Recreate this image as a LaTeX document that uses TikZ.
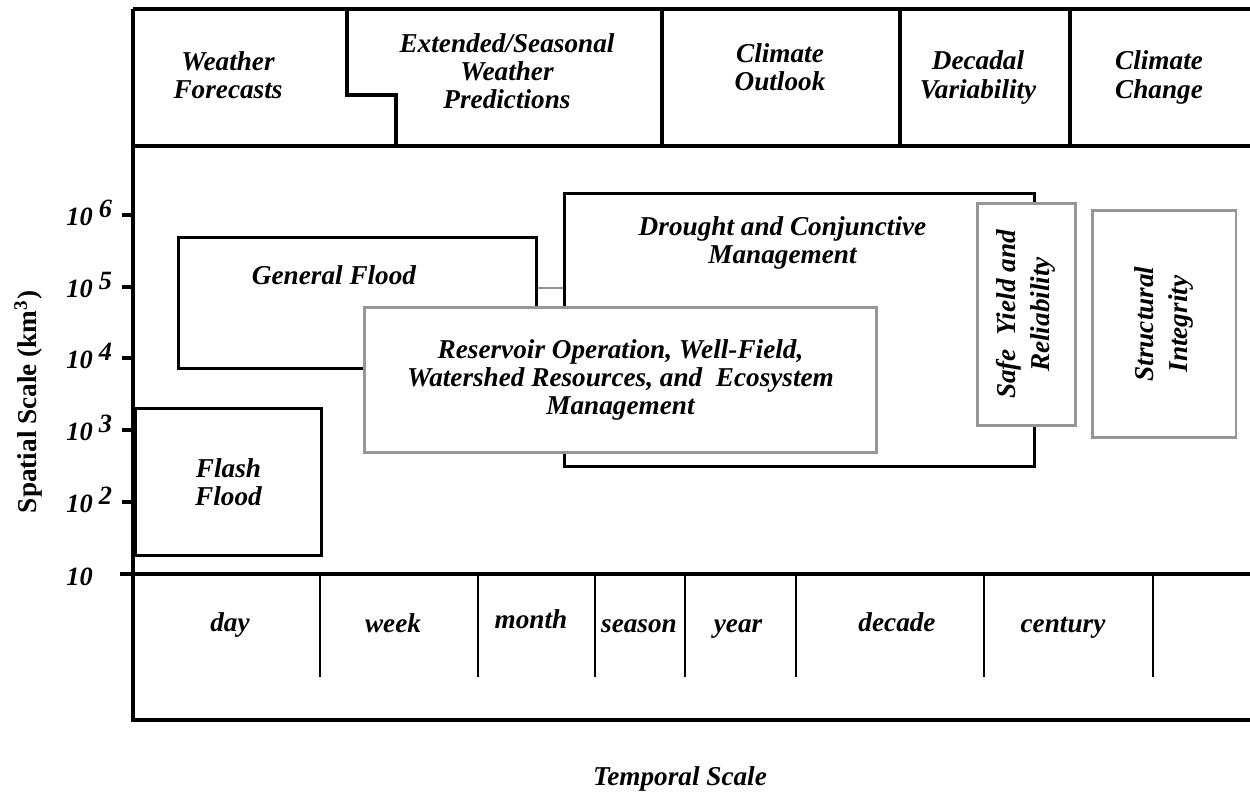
\documentclass[tikz,border=0pt]{standalone}
\usepackage{fontspec}
\setmainfont{Liberation Serif}
\usepackage{tikz}
\usetikzlibrary{positioning, calc}
\definecolor{linegray}{RGB}{150,150,150}
\newcommand{\chartfont}{\fontsize{15.5}{16}\selectfont\bfseries\itshape}

\begin{document}
\begin{tikzpicture}[
    x=0.02cm, y=-0.02cm,
    frame/.style={line width=1.8pt, black},
    divider/.style={line width=1.2pt, black},
    box/.style={draw, line width=1.7pt, fill=white, inner sep=0pt, align=center, font=\chartfont},
    graybox/.style={box, draw=linegray},
    rotbox/.style={graybox, rotate=90, font=\fontsize{15.5}{19.5}\selectfont\bfseries\itshape},
    lbl/.style={font=\chartfont, align=center, inner sep=0pt},
    ticklbl/.style={font=\fontsize{15}{16}\selectfont\bfseries\itshape, anchor=base west, inner sep=0pt},
    link/.style={line width=1.7pt, linegray}
]
    \useasboundingbox (0,0) rectangle (1250,794);

    % Forecast bands along the top
    \draw[frame] (133,9) -- (1250,9);
    \draw[frame] (133,146) -- (1250,146);
    \draw[frame] (133,9) -- (133,720) -- (1250,720);
    \draw[frame] (347,9) -- (347,95) -- (396,95) -- (396,146);
    \foreach \x in {662,900,1070}
        \draw[frame] (\x,9) -- (\x,146);

    \node[lbl] (weather) at (228,75.5) {Weather\\Forecasts};
    \node[lbl] (seasonal) at (507,71) {Extended/Seasonal\\Weather\\Predictions};
    \node[lbl] (outlook) at (780,67.5) {Climate\\Outlook};
    \node[lbl] (decadal) at (978,77.5) {Decadal\\Variability};
    \node[lbl] (change) at (1159,77.5) {Climate\\Change};

    % Spatial axis
    \draw[frame] (120,574) -- (1250,574);
    \node[ticklbl] (t1) at (66,585) {10};
    \foreach \k/\y in {2/502, 3/430, 4/358, 5/287, 6/215} {
        \draw[frame] (122,\y) -- (133,\y);
        \node[ticklbl] (t\k) at (66,\y+10) {10\hspace{3.5pt}\raisebox{4.5pt}{\k}};
    }
    \node[font=\fontsize{15.5}{16}\selectfont\bfseries, rotate=90, inner sep=0pt] (spatial) at (28,402) {Spatial Scale (km\textsuperscript{3})};

    % Temporal axis
    \foreach \x in {320,478,595,685,796,984,1153}
        \draw[divider] (\x,574) -- (\x,677);
    \foreach \x/\y/\t in {230/631/day, 393/632/week, 531/628/month, 639/632/season, 738/632/year, 897/631/decade, 1063/632/century}
        \node[lbl, anchor=base] (\t) at (\x,\y) {\t};
    \node[lbl, anchor=base] (temporal) at (680,785) {Temporal Scale};

    % Management problems
    \node[box, minimum width=7.18cm, minimum height=2.64cm] (gflood) at (357.5,303) {};
    \node[lbl] (gfloodtxt) at ($(gflood.north)+(-23.5,39.5)$) {General Flood};
    \node[box, minimum width=3.74cm, minimum height=2.96cm] (flash) at (228.5,482) {Flash\\Flood};
    \node[box, minimum width=9.42cm, minimum height=5.48cm] (drought) at (799.5,330) {};
    \node[lbl] (droughttxt) at ($(drought.north)+(-17,51.5)$) {Drought and Conjunctive\\Management};
    \draw[link] ($(gflood.east)+(0,-15)$) coordinate (g1) -- (g1 -| drought.west);
    \node[graybox, minimum width=10.26cm, minimum height=2.92cm] (reservoir) at (620.5,380) {Reservoir Operation, Well-Field,\\Watershed Resources, and~ Ecosystem\\Management};
    \node[rotbox, minimum width=4.46cm, minimum height=1.96cm] (safe) at (1026,314.5) {Safe~ Yield and\\Reliability};
    \node[rotbox, minimum width=4.56cm, minimum height=2.88cm] (struct) at (1164,324) {Structural\\Integrity};
\end{tikzpicture}
\end{document}
